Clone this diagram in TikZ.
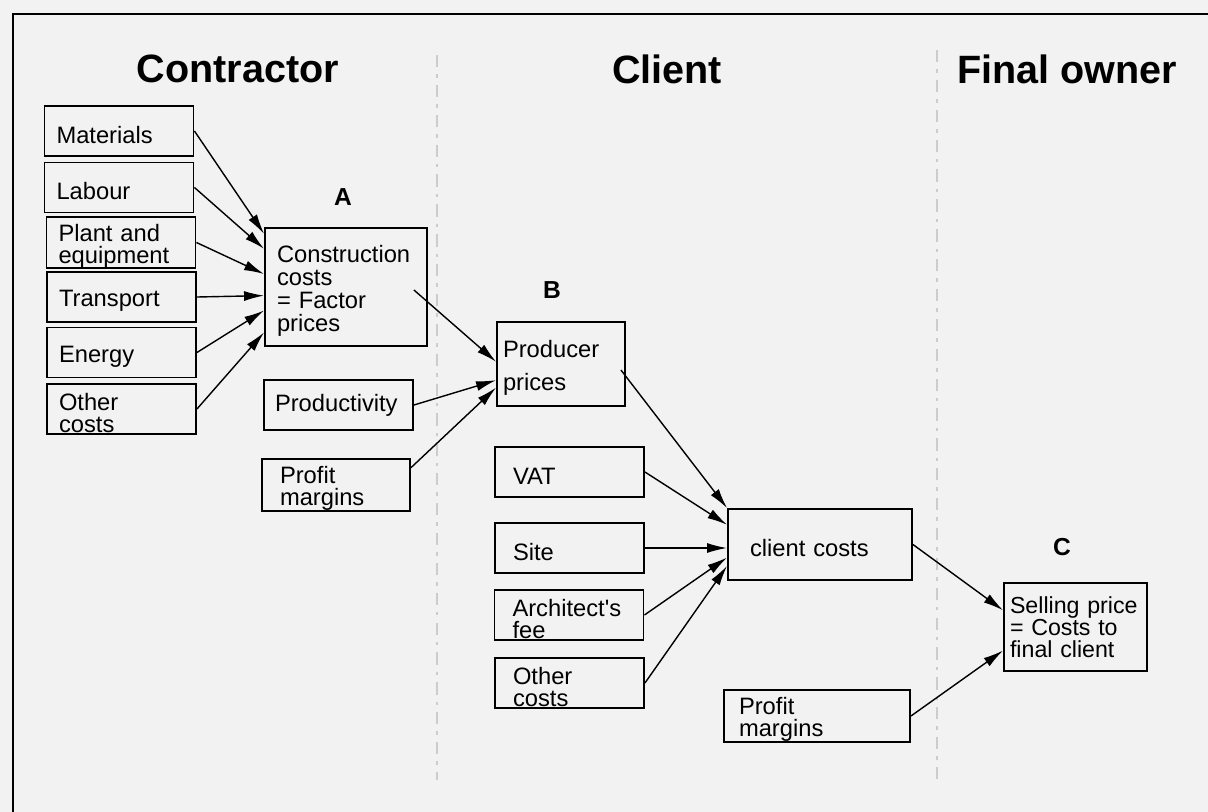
\documentclass[tikz,border=0pt]{standalone}
\usepackage{fontspec}
\setmainfont{Liberation Sans}
\usetikzlibrary{arrows.meta}
\definecolor{scan}{gray}{0.95}

\begin{document}
\begin{tikzpicture}[x=0.02cm, y=-0.02cm,
  box/.style={draw, line width=1.1pt, align=left, inner ysep=0pt, text height=14pt,
    font=\fontsize{13.5}{13}\selectfont},
  item/.style={box, minimum height=1cm, inner xsep=0.24cm, text width=2.5cm},
  extra/.style={box, minimum height=1cm, inner xsep=0.36cm, text width=2.26cm},
  tight/.style={font=\fontsize{13.5}{12.5}\selectfont},
  flow/.style={-{Latex[length=0.4cm,width=0.2cm]}, line width=0.8pt},
  heading/.style={font=\fontsize{22.5}{27}\selectfont\bfseries},
  tag/.style={font=\fontsize{14}{16}\selectfont\bfseries},
  divider/.style={gray!40, line width=0.8pt, dash pattern=on 7pt off 4pt on 2pt off 4pt}]
  \useasboundingbox (0,0) rectangle (1208,812);
  \fill[scan] (0,0) rectangle (1208,812);
  \draw[line width=1.6pt] (13,812) -- (13,14) -- (1208,14);
  \draw[divider] (437,55) -- (437,780);
  \draw[divider] (937,50) -- (937,780);

  % column headings
  \node[heading] (hcon) at (238,69) {Contractor};
  \node[heading] (hcli) at (667,69) {Client};
  \node[heading] (hown) at (1067,69) {Final owner};

  % contractor
  \node[item] (mat) at (119,131) {Materials};
  \node[item] (lab) at (119,187.5) {Labour};
  \node[item,tight] (plant) at (121,242.5) {Plant and\\equipment};
  \node[item] (trans) at (121.5,297) {Transport};
  \node[item] (energy) at (121.5,352.5) {Energy};
  \node[item,tight] (othA) at (121.5,409) {Other\\costs};
  \node[tag] (tagA) at (343,197) {A};
  \node[box, minimum height=2.36cm, inner xsep=0.24cm, text width=2.76cm] (cc) at (346,287)
    {Construction\\costs\\= Factor\\prices};
  \node[box, text height={}, minimum height=1cm, inner xsep=0.22cm, text width=2.54cm] (prod) at (338.5,405) {Productivity};
  \node[box, tight, minimum height=1cm, inner xsep=0.36cm, text width=2.24cm] (pmA) at (336,485) {Profit\\margins};

  % client
  \node[tag] (tagB) at (552,290) {B};
  \node[box, minimum height=1.68cm, inner xsep=0.12cm, text width=2.32cm] (pp) at (561,364) {Producer\\[6pt]prices};
  \node[extra] (vat) at (569.5,472) {VAT};
  \node[extra] (site) at (569.5,548) {Site};
  \node[extra,tight] (arch) at (569,615) {Architect\textquotesingle s\\fee};
  \node[extra,tight] (othB) at (569.5,683) {Other\\costs};
  \node[box, minimum height=1.42cm, inner xsep=0.44cm, text width=2.8cm] (clc) at (820,544.5) {client costs};
  \node[box, tight, minimum height=1cm, inner xsep=0.3cm, text width=3.12cm] (pmC) at (817,716) {Profit\\margins};

  % final owner
  \node[tag] (tagC) at (1062,547) {C};
  \node[box, text height={}, minimum height=1.76cm, inner xsep=0.12cm, text width=2.62cm,
    font=\fontsize{13.2}{12.5}\selectfont] (sell) at (1075.5,627) {\mbox{Selling price}\\= Costs to\\final client};

  \draw[flow] (mat.east) -- (cc.147);
  \draw[flow] (lab.east) -- (cc.155);
  \draw[flow] (plant.east) -- (cc.171);
  \draw[flow] (trans.east) -- (cc.186);
  \draw[flow] (energy.east) -- (cc.196);
  \draw[flow] (othA.east) -- (cc.209);
  \draw[flow] ([xshift=-0.28cm,yshift=-0.06cm]cc.east) -- (pp.178);
  \draw[flow] (prod.east) -- (pp.194);
  \draw[flow] (pmA.13) -- (pp.200);
  \draw[flow] ([xshift=-0.1cm,yshift=-0.12cm]pp.east) -- (clc.north west);
  \draw[flow] (vat.east) -- (clc.168);
  \draw[flow] (site.east) -- (site.east -| clc.west);
  \draw[flow] (arch.east) -- (clc.188);
  \draw[flow] (othB.east) -- (clc.193);
  \draw[flow] (clc.east) -- (sell.167);
  \draw[flow] (pmC.east) -- (sell.198);
\end{tikzpicture}
\end{document}
